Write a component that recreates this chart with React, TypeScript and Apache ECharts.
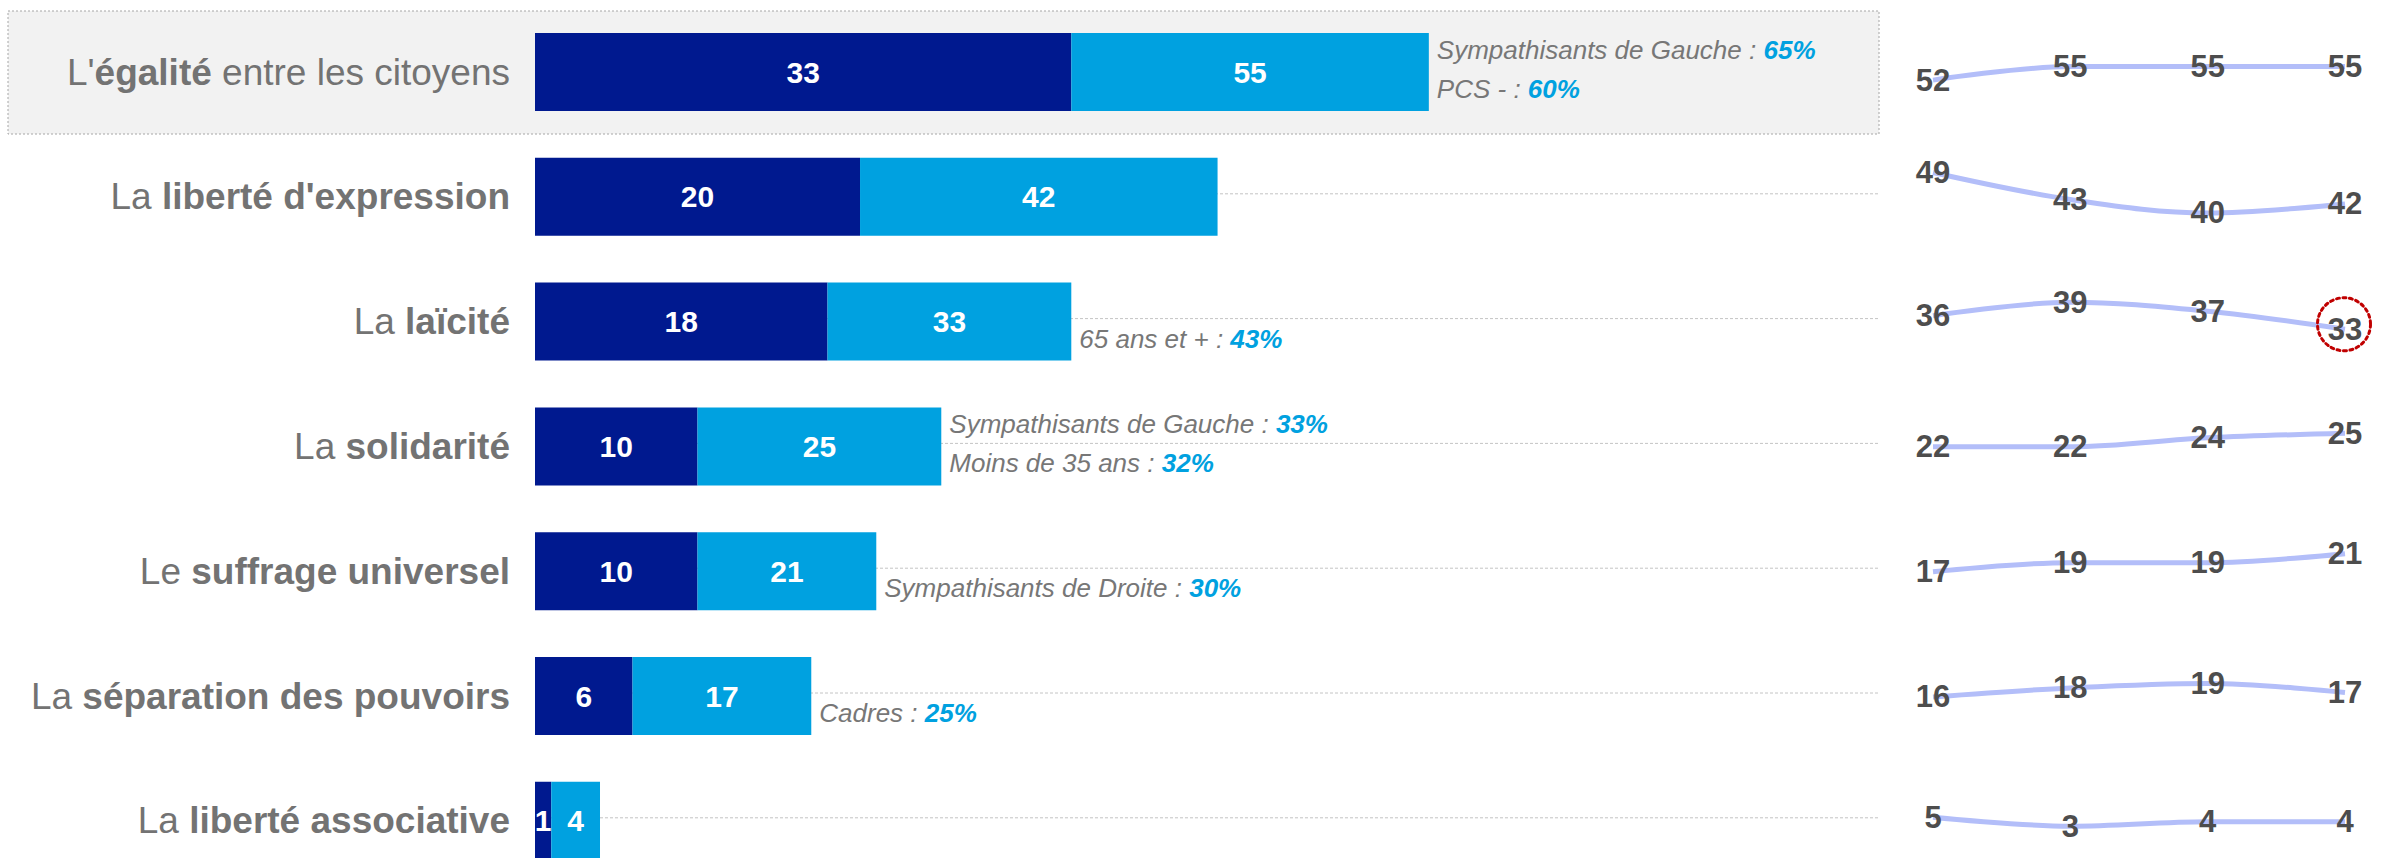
import React, { useEffect, useRef } from 'react';
import * as echarts from 'echarts';

// ---------- data ----------
const catPrefix = ["L'", 'La ', 'La ', 'La ', 'Le ', 'La ', 'La '];
const catBold = ['égalité', "liberté d'expression", 'laïcité', 'solidarité', 'suffrage universel', 'séparation des pouvoirs', 'liberté associative'];
const catSuffix = [' entre les citoyens', '', '', '', '', '', ''];

const firstCited = [33, 20, 18, 10, 10, 6, 1];
const totalCited = [55, 42, 33, 25, 21, 17, 4];

const notes: [string, string][][] = [
  [['Sympathisants de Gauche : ', '65%'], ['PCS - : ', '60%']],
  [],
  [['65 ans et + : ', '43%']],
  [['Sympathisants de Gauche : ', '33%'], ['Moins de 35 ans : ', '32%']],
  [['Sympathisants de Droite : ', '30%']],
  [['Cadres : ', '25%']],
  [],
];

const waves = ['V1', 'V2', 'V3', 'V4'];
const trend1 = [52, 55, 55, 55];
const trend2 = [49, 43, 40, 42];
const trend3 = [36, 39, 37, 33];
const trend4 = [22, 22, 24, 25];
const trend5 = [17, 19, 19, 21];
const trend6 = [16, 18, 19, 17];
const trend7 = [5, 3, 4, 4];
const trends = [trend1, trend2, trend3, trend4, trend5, trend6, trend7];
// value sitting at the vertical middle of each mini axis
const trendAxisMid = [53.8, 43.6, 34.7, 22.1, 17.1, 16.2, 4.2];
const trendAxisHalfSpan = 13.87;
const barAxisMax = 82.7;

// ---------- styles ----------
const FONT = "'Liberation Sans', Arial, Helvetica, sans-serif";
const DARK = '#00198F';
const LIGHT = '#00A1E0';
const ROW = 124.8;
const TOP = 72 - ROW / 2;

export default function App() {
  const ref = useRef<HTMLDivElement>(null);

  useEffect(() => {
    document.body.style.margin = '0';
    if (!ref.current) return;
    const chart = echarts.init(ref.current, undefined, { renderer: 'svg' });

    const grids: any[] = [
      { left: 535, top: TOP, width: 1344, height: ROW * 7, outerBoundsMode: 'none', containLabel: false },
    ];
    const xAxes: any[] = [
      { type: 'value', gridIndex: 0, min: 0, max: barAxisMax, show: false },
    ];
    const yAxes: any[] = [
      {
        type: 'category',
        gridIndex: 0,
        inverse: true,
        z: 5,
        data: catBold,
        axisLine: { show: false },
        axisTick: { show: false },
        splitLine: { show: false },
        axisLabel: {
          margin: 25,
          interval: 0,
          showMinLabel: true,
          showMaxLabel: true,
          formatter: (_v: string, i: number) =>
            `{n|${catPrefix[i]}}{b|${catBold[i]}}` + (catSuffix[i] ? `{n|${catSuffix[i]}}` : ''),
          rich: {
            n: { fontSize: 37, color: '#737373', fontFamily: FONT },
            b: { fontSize: 37, color: '#737373', fontFamily: FONT, fontWeight: 'bold' },
          },
        },
      },
    ];

    const series: any[] = [
      {
        type: 'custom',
        xAxisIndex: 0,
        yAxisIndex: 0,
        z: 0,
        silent: true,
        data: catBold.map((_c, i) => [0, i]),
        encode: { x: 0, y: 1 },
        renderItem: (_params: any, api: any) => {
          const i = api.value(1);
          const p1 = api.coord([0, i]);
          const p2 = api.coord([barAxisMax, i]);
          return {
            type: 'line',
            shape: { x1: p1[0], y1: p1[1] - 3, x2: p2[0], y2: p2[1] - 3 },
            style: { stroke: '#C4C4C4', lineWidth: 1, lineDash: [3, 2] },
          };
        },
      },
      {
        type: 'bar',
        stack: 'cit',
        xAxisIndex: 0,
        yAxisIndex: 0,
        z: 2,
        barWidth: 78,
        data: firstCited,
        itemStyle: { color: DARK },
        label: {
          show: true,
          position: 'inside',
          color: '#FFFFFF',
          fontSize: 30,
          fontWeight: 'bold',
          fontFamily: FONT,
        },
      },
      {
        type: 'bar',
        stack: 'cit',
        xAxisIndex: 0,
        yAxisIndex: 0,
        z: 2,
        barWidth: 78,
        data: totalCited.map((t, i) => t - firstCited[i]),
        itemStyle: { color: LIGHT },
        label: {
          show: true,
          position: 'inside',
          color: '#FFFFFF',
          fontSize: 30,
          fontWeight: 'bold',
          fontFamily: FONT,
          formatter: (p: any) => String(totalCited[p.dataIndex]),
        },
      },
      {
        type: 'custom',
        xAxisIndex: 0,
        yAxisIndex: 0,
        z: 3,
        silent: true,
        data: totalCited.map((t, i) => [t, i]),
        encode: { x: 0, y: 1 },
        renderItem: (params: any, api: any) => {
          const i = params.dataIndex;
          const lines = notes[i];
          if (!lines || !lines.length) return null;
          const pt = api.coord([api.value(0), api.value(1)]);
          return {
            type: 'group',
            children: lines.map((ln, k) => ({
              type: 'text',
              x: pt[0] + 8,
              y: pt[1] + (lines.length === 1 || k === 1 ? 17 : -22),
              style: {
                text: `{a|${ln[0]}}{b|${ln[1]}}`,
                verticalAlign: 'middle',
                align: 'left',
                fill: '#777777',
                fontSize: 26,
                fontStyle: 'italic',
                fontFamily: FONT,
                rich: {
                  a: { fontSize: 26, fontStyle: 'italic', fill: '#777777', fontFamily: FONT },
                  b: { fontSize: 26, fontStyle: 'italic', fontWeight: 'bold', fill: LIGHT, fontFamily: FONT },
                },
              },
            })),
          };
        },
      },
    ];

    trends.forEach((vals, r) => {
      const gi = r + 1;
      grids.push({ left: 1933, top: TOP + r * ROW, width: 412, height: ROW, outerBoundsMode: 'none', containLabel: false });
      xAxes.push({ type: 'category', gridIndex: gi, data: waves, boundaryGap: false, show: false });
      yAxes.push({
        type: 'value',
        gridIndex: gi,
        min: trendAxisMid[r] - trendAxisHalfSpan,
        max: trendAxisMid[r] + trendAxisHalfSpan,
        show: false,
      });
      const s: any = {
        type: 'line',
        xAxisIndex: gi,
        yAxisIndex: gi,
        data: vals,
        smooth: 0.35,
        symbol: 'circle',
        symbolSize: 2,
        itemStyle: { color: 'rgba(0,0,0,0)' },
        lineStyle: { color: '#B3BEF9', width: 5 },
        label: {
          show: true,
          position: 'inside',
          fontSize: 31,
          fontWeight: 'bold',
          color: '#4D4D4D',
          fontFamily: FONT,
        },
        emphasis: { disabled: true },
        z: 2,
      };
      if (r === 2) {
        s.markPoint = {
          silent: true,
          symbol: 'circle',
          symbolSize: 53,
          symbolOffset: [-1, -5],
          label: { show: false },
          itemStyle: {
            color: 'rgba(0,0,0,0)',
            borderColor: '#C00000',
            borderWidth: 3,
            borderType: [3, 3.5],
            borderCap: 'round',
          },
          data: [{ coord: [waves.length - 1, vals[vals.length - 1]] }],
        };
      }
      series.push(s);
    });

    chart.setOption({
      animation: false,
      backgroundColor: '#FFFFFF',
      textStyle: { fontFamily: FONT },
      grid: grids,
      xAxis: xAxes,
      yAxis: yAxes,
      graphic: [
        {
          type: 'rect',
          z: 1,
          silent: true,
          shape: { x: 8, y: 11, width: 1871, height: 123 },
          style: { fill: '#F2F2F2', stroke: '#A6A6A6', lineWidth: 1, lineDash: [2, 2] },
        },
      ],
      series,
    });

    return () => chart.dispose();
  }, []);

  return <div ref={ref} style={{ width: 2382, height: 858 }} />;
}
